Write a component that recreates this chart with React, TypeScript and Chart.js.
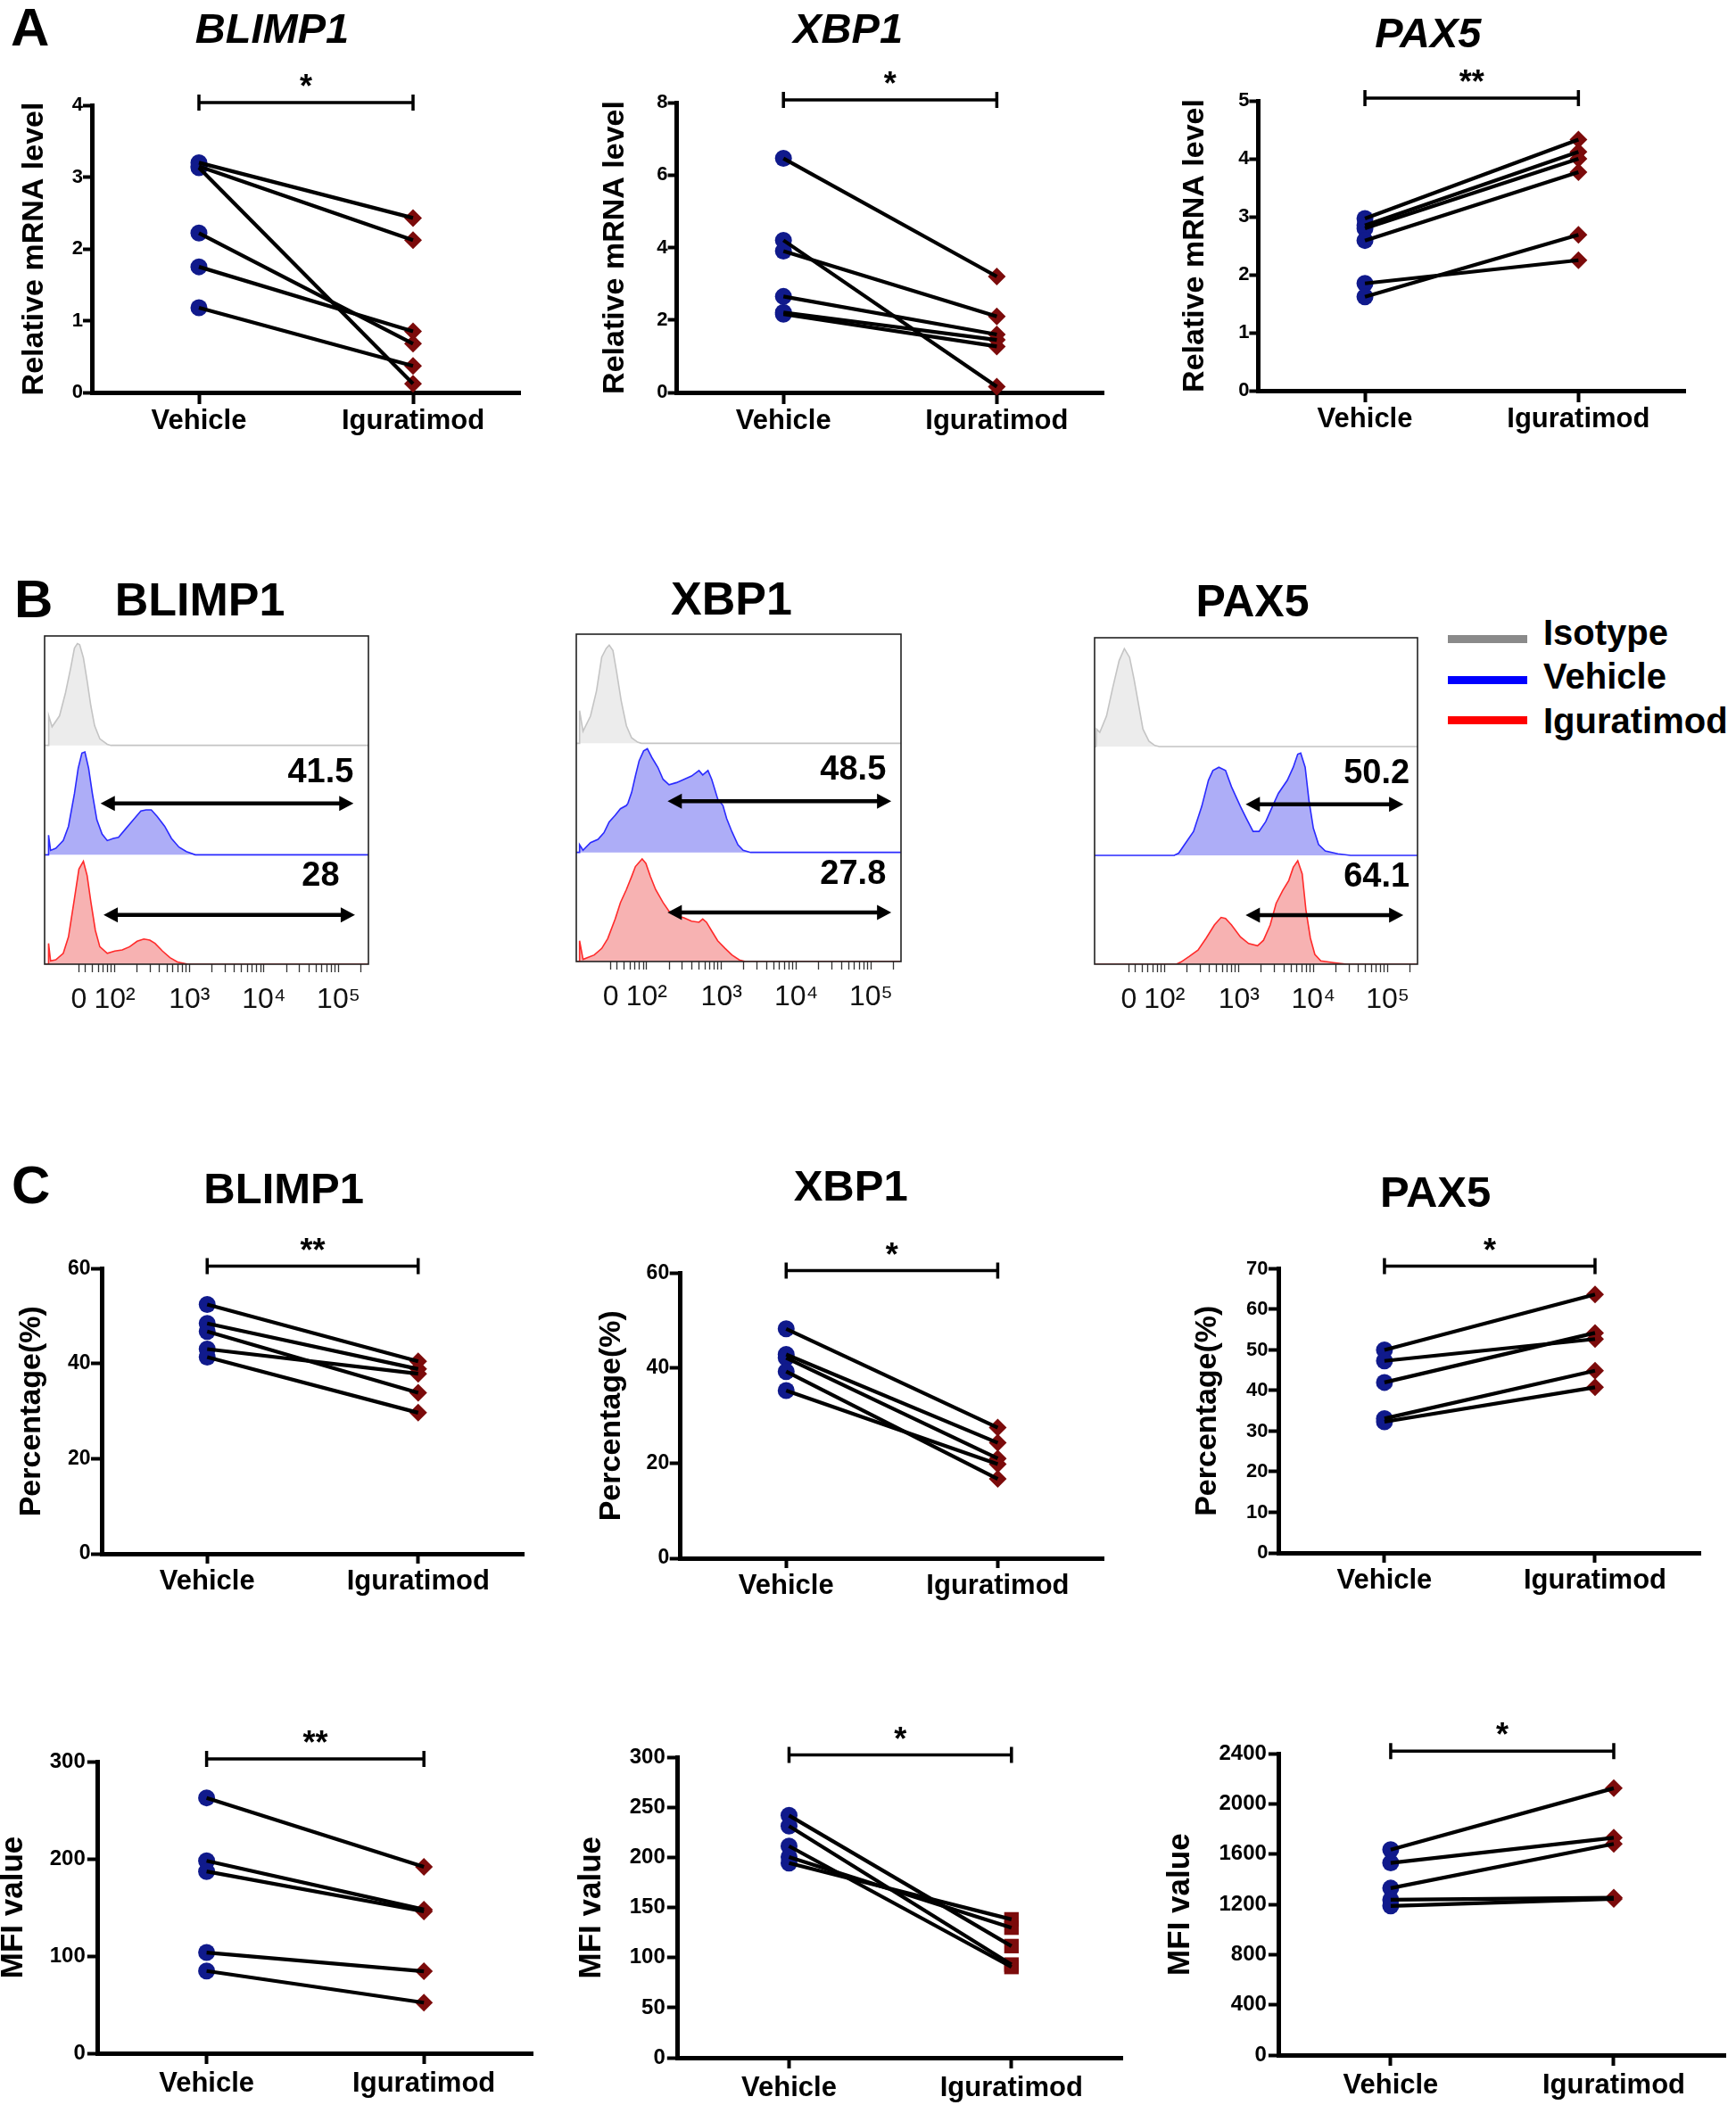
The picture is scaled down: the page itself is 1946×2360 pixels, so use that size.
import React, { useEffect, useMemo, useRef } from 'react';
import { Chart, registerables } from 'chart.js';

Chart.register(...registerables);

const FONT = "'Liberation Sans', Arial, Helvetica, sans-serif";
Chart.defaults.font.family = FONT;
Chart.defaults.color = '#000';

// ---------------- categories ----------------
const groups = ['Vehicle', 'Iguratimod'];
const genes = ['BLIMP1', 'XBP1', 'PAX5'];

// ---------------- Panel A : relative mRNA level ----------------
const aBlimp1Vehicle = [3.2, 3.15, 3.13, 2.22, 1.75, 1.18];
const aBlimp1Iguratimod = [2.43, 2.12, 0.12, 0.68, 0.85, 0.37];
const aXbp1Vehicle = [6.46, 4.2, 3.9, 2.65, 2.21, 2.16];
const aXbp1Iguratimod = [3.2, 0.16, 2.1, 1.6, 1.45, 1.27];
const aPax5Vehicle = [2.97, 2.85, 2.8, 2.59, 1.85, 1.62];
const aPax5Iguratimod = [4.33, 4.12, 4.0, 3.77, 2.25, 2.69];
const aYMax = [4, 8, 5];
const aYStep = [1, 2, 1];
const aSig = ['*', '*', '**'];

// ---------------- Panel C : percentage ----------------
const cPctBlimp1Vehicle = [52.5, 48.5, 46.8, 43.1, 41.4];
const cPctBlimp1Iguratimod = [40.5, 38.9, 33.9, 37.9, 29.7];
const cPctXbp1Vehicle = [48.3, 42.9, 42.2, 39.3, 35.3];
const cPctXbp1Iguratimod = [27.5, 24.3, 21.0, 16.7, 19.8];
const cPctPax5Vehicle = [50.0, 47.3, 42.0, 33.1, 32.3];
const cPctPax5Iguratimod = [63.7, 52.7, 54.2, 44.9, 40.8];
const cPctYMax = [60, 60, 70];
const cPctYStep = [20, 20, 10];
const cPctSig = ['**', '*', '*'];

// ---------------- Panel C : MFI ----------------
const cMfiBlimp1Vehicle = [262.7, 198, 187, 103.6, 84.6];
const cMfiBlimp1Iguratimod = [191.7, 147.8, 145.9, 84.3, 52.1];
const cMfiXbp1Vehicle = [242.2, 231.5, 211.5, 200.7, 194.6];
const cMfiXbp1Iguratimod = [111.6, 93.1, 90.7, 130, 138.3];
const cMfiPax5Vehicle = [1636, 1531, 1330, 1237, 1188];
const cMfiPax5Iguratimod = [2126, 1732, 1683, 1254, 1244];
const cMfiYMax = [300, 300, 2400];
const cMfiYStep = [100, 50, 400];
const cMfiSig = ['**', '*', '*'];

// ---------------- Panel B : flow histograms ----------------
// [position on biexponential axis (decades), normalised count]
const bBlimp1Isotype = [[1.06, 0], [1.11, 0], [1.115, 0.27], [1.16, 0.17], [1.26, 0.27], [1.34, 0.48], [1.41, 0.71], [1.46, 0.89], [1.5, 0.93], [1.53, 0.92], [1.58, 0.8], [1.63, 0.59], [1.68, 0.36], [1.73, 0.18], [1.8, 0.06], [1.9, 0.01], [1.95, 0], [5.4, 0]];
const bBlimp1Vehicle = [[1.06, 0], [1.11, 0], [1.113, 0.18], [1.14, 0.04], [1.21, 0.06], [1.31, 0.13], [1.38, 0.26], [1.46, 0.56], [1.51, 0.79], [1.56, 0.93], [1.6, 0.94], [1.65, 0.79], [1.7, 0.56], [1.76, 0.32], [1.83, 0.19], [1.9, 0.13], [1.98, 0.15], [2.05, 0.16], [2.15, 0.24], [2.25, 0.32], [2.35, 0.4], [2.42, 0.41], [2.49, 0.41], [2.57, 0.35], [2.67, 0.26], [2.76, 0.15], [2.86, 0.07], [2.96, 0.03], [3.08, 0], [5.4, 0]];
const bBlimp1Iguratimod = [[1.06, 0], [1.11, 0], [1.113, 0.19], [1.14, 0.03], [1.21, 0.04], [1.31, 0.1], [1.38, 0.25], [1.46, 0.6], [1.52, 0.87], [1.58, 0.94], [1.63, 0.81], [1.68, 0.57], [1.74, 0.31], [1.8, 0.16], [1.9, 0.1], [2.0, 0.12], [2.1, 0.13], [2.2, 0.16], [2.3, 0.21], [2.39, 0.23], [2.47, 0.22], [2.54, 0.19], [2.64, 0.12], [2.74, 0.06], [2.84, 0.02], [2.98, 0], [5.4, 0]];
const bXbp1Isotype = [[1.06, 0], [1.1, 0], [1.104, 0.3], [1.15, 0.11], [1.25, 0.25], [1.33, 0.48], [1.4, 0.79], [1.46, 0.87], [1.5, 0.9], [1.55, 0.85], [1.6, 0.65], [1.66, 0.39], [1.73, 0.16], [1.8, 0.05], [1.88, 0.01], [1.93, 0], [5.4, 0]];
const bXbp1Vehicle = [[1.06, 0], [1.1, 0], [1.104, 0.07], [1.15, 0.02], [1.25, 0.09], [1.35, 0.12], [1.43, 0.18], [1.5, 0.28], [1.58, 0.34], [1.65, 0.4], [1.73, 0.43], [1.75, 0.45], [1.8, 0.55], [1.85, 0.7], [1.9, 0.84], [1.96, 0.93], [2.01, 0.95], [2.07, 0.87], [2.15, 0.78], [2.22, 0.67], [2.3, 0.62], [2.4, 0.64], [2.5, 0.67], [2.6, 0.7], [2.7, 0.75], [2.75, 0.71], [2.82, 0.75], [2.87, 0.67], [2.95, 0.49], [3.02, 0.43], [3.07, 0.31], [3.14, 0.19], [3.22, 0.07], [3.29, 0.02], [3.39, 0], [5.4, 0]];
const bXbp1Iguratimod = [[1.06, 0], [1.1, 0], [1.104, 0.19], [1.15, 0.02], [1.3, 0.06], [1.4, 0.12], [1.48, 0.21], [1.58, 0.39], [1.65, 0.54], [1.73, 0.66], [1.8, 0.78], [1.85, 0.87], [1.9, 0.91], [1.94, 0.94], [1.99, 0.9], [2.05, 0.78], [2.12, 0.66], [2.22, 0.54], [2.3, 0.46], [2.4, 0.42], [2.5, 0.4], [2.6, 0.37], [2.7, 0.36], [2.75, 0.39], [2.8, 0.36], [2.87, 0.28], [2.95, 0.19], [3.05, 0.12], [3.14, 0.06], [3.24, 0.015], [3.32, 0], [5.4, 0]];
const bPax5Isotype = [[1.06, 0], [1.08, 0], [1.086, 0.16], [1.13, 0.13], [1.22, 0.28], [1.3, 0.53], [1.39, 0.79], [1.46, 0.9], [1.53, 0.82], [1.59, 0.62], [1.65, 0.39], [1.71, 0.16], [1.79, 0.05], [1.87, 0.01], [1.93, 0], [5.4, 0]];
const bPax5Vehicle = [[1.06, 0], [2.13, 0], [2.19, 0.02], [2.27, 0.1], [2.39, 0.22], [2.5, 0.45], [2.59, 0.69], [2.65, 0.78], [2.73, 0.81], [2.82, 0.78], [2.9, 0.63], [3.02, 0.45], [3.1, 0.34], [3.19, 0.22], [3.27, 0.22], [3.36, 0.31], [3.45, 0.45], [3.53, 0.57], [3.65, 0.69], [3.73, 0.81], [3.79, 0.93], [3.83, 0.94], [3.89, 0.81], [3.94, 0.51], [4.0, 0.25], [4.07, 0.1], [4.16, 0.04], [4.33, 0.015], [4.5, 0], [5.4, 0]];
const bPax5Iguratimod = [[1.06, 0], [2.16, 0], [2.22, 0.02], [2.33, 0.07], [2.45, 0.13], [2.56, 0.24], [2.67, 0.36], [2.76, 0.43], [2.82, 0.42], [2.9, 0.36], [3.02, 0.25], [3.13, 0.19], [3.25, 0.17], [3.33, 0.22], [3.42, 0.36], [3.5, 0.56], [3.59, 0.68], [3.67, 0.77], [3.73, 0.89], [3.79, 0.95], [3.85, 0.83], [3.9, 0.5], [3.96, 0.24], [4.02, 0.09], [4.1, 0.03], [4.27, 0.015], [4.45, 0], [5.4, 0]];

const bVehiclePct = ['41.5', '48.5', '50.2'];
const bIguratimodPct = ['28', '27.8', '64.1'];
const bVehicleGate = [[1.81, 5.2], [2.28, 5.27], [3.09, 5.21]];
const bIguratimodGate = [[1.85, 5.22], [2.28, 5.27], [3.09, 5.21]];
const bPctPosition = [4.76, 4.76, 4.85];
const bTickValues = [1.52, 2, 3, 4, 5];
const bTickLabels = ['0', '10\u00B2', '10\u00B3', '10\u2074', '10\u2075'];
const bMinorDecades = [1, 2, 3, 4, 5];
const bMinorFactors = [2, 3, 4, 5, 6, 7, 8, 9];
const legendLabels = ['Isotype', 'Vehicle', 'Iguratimod'];

// ---------------- styles / geometry (not data) ----------------
const NAVY = '#101a8c';
const MAROON = '#7c0b0b';
const histStroke = ['#c4c4c4', '#2a2aff', '#ff2a2a'];
const histFill = ['#ececec', '#adadf7', '#f7b2b2'];
const legendColors = ['#8a8a8a', '#0000ff', '#ff0000'];

const aGeom = [
  { area: [103, 587, 118, 440], titleCX: 305, titleCY: 35, yTitleCX: 39 },
  { area: [758.6, 1240.7, 115, 440], titleCX: 950.5, titleCY: 35, yTitleCX: 689.4 },
  { area: [1410.4, 1893, 113, 438], titleCX: 1600.8, titleCY: 40, yTitleCX: 1340 },
];
const cPctGeom = [
  { area: [114, 590.7, 1422.5, 1742], titleCX: 318, titleCY: 1335, yTitleCX: 36 },
  { area: [762.7, 1240.7, 1427.5, 1747], titleCX: 953.5, titleCY: 1332, yTitleCX: 686 },
  { area: [1433.9, 1909.8, 1422.5, 1741], titleCX: 1609, titleCY: 1339, yTitleCX: 1353.6 },
];
const cMfiGeom = [
  { area: [109.8, 601, 1975, 2302], yTitleCX: 15.3 },
  { area: [759.8, 1263.5, 1970.5, 2306.6], yTitleCX: 663 },
  { area: [1433.9, 1937.8, 1966.3, 2303.8], yTitleCX: 1323.5 },
];
const bGeom = [
  { area: [50, 413, 713, 1081], titleCX: 224, titleCY: 676, titleSize: 52 },
  { area: [646, 1010, 711, 1078], titleCX: 820, titleCY: 675, titleSize: 52 },
  { area: [1227, 1589, 715, 1081], titleCX: 1404, titleCY: 677, titleSize: 50 },
];

// ---------------- plugins ----------------
const sigBarPlugin = {
  id: 'sigBar',
  afterDraw(chart: any, _args: any, opts: any) {
    const { ctx, chartArea, scales } = chart;
    const x0 = scales.x.getPixelForValue(0);
    const x1 = scales.x.getPixelForValue(1);
    const y = chartArea.top - opts.gap;
    ctx.save();
    ctx.strokeStyle = '#000';
    ctx.lineWidth = 3.5;
    ctx.beginPath();
    ctx.moveTo(x0, y);
    ctx.lineTo(x1, y);
    ctx.moveTo(x0, y - 9);
    ctx.lineTo(x0, y + 9);
    ctx.moveTo(x1, y - 9);
    ctx.lineTo(x1, y + 9);
    ctx.stroke();
    ctx.fillStyle = '#000';
    ctx.font = `bold 36px ${FONT}`;
    ctx.textAlign = 'center';
    ctx.textBaseline = 'alphabetic';
    ctx.fillText(opts.text, (x0 + x1) / 2, y - 6);
    ctx.restore();
  },
};

const histDecorPlugin = {
  id: 'histDecor',
  afterDatasetsDraw(chart: any, _args: any, opts: any) {
    const { ctx, chartArea, scales } = chart;
    const { x, y } = scales;
    ctx.save();
    ctx.strokeStyle = '#222';
    ctx.lineWidth = 1.6;
    ctx.strokeRect(chartArea.left, chartArea.top, chartArea.width, chartArea.height);
    opts.arrows.forEach((a: any) => {
      const xa = x.getPixelForValue(a.from);
      const xb = x.getPixelForValue(a.to);
      const yy = y.getPixelForValue(a.y);
      const head = 16;
      const hw = 8.5;
      ctx.strokeStyle = '#000';
      ctx.fillStyle = '#000';
      ctx.lineWidth = 4.5;
      ctx.beginPath();
      ctx.moveTo(xa + head - 2, yy);
      ctx.lineTo(xb - head + 2, yy);
      ctx.stroke();
      ctx.beginPath();
      ctx.moveTo(xa, yy);
      ctx.lineTo(xa + head, yy - hw);
      ctx.lineTo(xa + head, yy + hw);
      ctx.closePath();
      ctx.fill();
      ctx.beginPath();
      ctx.moveTo(xb, yy);
      ctx.lineTo(xb - head, yy - hw);
      ctx.lineTo(xb - head, yy + hw);
      ctx.closePath();
      ctx.fill();
      ctx.font = `bold 38px ${FONT}`;
      ctx.textAlign = 'center';
      ctx.textBaseline = 'middle';
      ctx.fillText(a.label, x.getPixelForValue(a.labelX), y.getPixelForValue(a.labelY));
    });
    ctx.restore();
  },
};

// ---------------- chart builders ----------------
type Built = { rect: { left: number; top: number; width: number; height: number }; config: any };

function buildPair(spec: any): Built {
  const [L, R, T, B] = spec.area;
  const lhY = spec.yTitleSize * 1.2;
  const titled = !!spec.title;
  const S = titled ? 2 * spec.titleCX - R : Math.max(2, spec.yTitleCX - lhY / 2);
  const CL = Math.max(0, Math.floor(Math.min(S, spec.yTitleCX - lhY / 2) - 4));
  const padL = S - CL;
  const W = L - S;
  const pTitle = spec.yTitleCX - S - lhY / 2;
  const padR = 6;
  const CW = Math.ceil(R + padR - CL);
  let CT: number;
  let padTop = 0;
  let tTop = 0;
  let tBottom = 0;
  if (titled) {
    const lhT = spec.titleSize * 1.2;
    CT = Math.floor(spec.titleCY - lhT / 2 - 4);
    tTop = spec.titleCY - lhT / 2 - CT;
    tBottom = T - (spec.titleCY + lhT / 2);
  } else {
    CT = Math.floor(T - 75);
    padTop = T - CT;
  }
  const H = 62;
  const CH = Math.ceil(B + H - CT);

  const datasets: any[] = [
    {
      label: groups[0],
      data: spec.veh.map((v: number) => ({ x: groups[0], y: v })),
      showLine: false,
      pointStyle: 'circle',
      pointRadius: spec.circleR,
      pointBackgroundColor: NAVY,
      pointBorderColor: NAVY,
      pointBorderWidth: 0,
      order: 2,
      clip: false,
    },
    {
      label: groups[1],
      data: spec.igu.map((v: number) => ({ x: groups[1], y: v })),
      showLine: false,
      pointStyle: spec.iguStyle,
      pointRadius: spec.iguR,
      pointBackgroundColor: MAROON,
      pointBorderColor: MAROON,
      pointBorderWidth: 0,
      order: 2,
      clip: false,
    },
  ];
  spec.veh.forEach((v: number, i: number) => {
    datasets.push({
      label: `pair ${i + 1}`,
      data: [v, spec.igu[i]],
      borderColor: '#000',
      borderWidth: 4.2,
      pointRadius: 0,
      fill: false,
      order: 1,
      clip: false,
    });
  });

  const config = {
    type: 'line',
    data: { labels: groups, datasets },
    options: {
      responsive: false,
      animation: false,
      events: [],
      layout: { padding: { left: padL, right: padR, top: padTop, bottom: 0 } },
      plugins: {
        legend: { display: false },
        tooltip: { enabled: false },
        title: titled
          ? {
              display: true,
              text: spec.title,
              color: '#000',
              font: { family: FONT, size: spec.titleSize, weight: 'bold', style: spec.italic ? 'italic' : 'normal' },
              padding: { top: tTop, bottom: tBottom },
            }
          : { display: false },
        sigBar: { text: spec.sig, gap: 3 },
      },
      scales: {
        x: {
          type: 'category',
          labels: groups,
          offset: true,
          afterFit: (s: any) => {
            s.height = H;
          },
          grid: { display: true, drawOnChartArea: false, drawTicks: true, tickLength: spec.xTickLen, tickWidth: 4, tickColor: '#000', color: '#000', offset: false },
          border: { display: true, color: '#000', width: 5 },
          ticks: { font: { family: FONT, size: 31, weight: 'bold' }, color: '#000', padding: spec.xPad, maxRotation: 0 },
        },
        y: {
          type: 'linear',
          min: 0,
          max: spec.yMax,
          afterFit: (s: any) => {
            s.width = W;
          },
          grid: { display: true, drawOnChartArea: false, drawTicks: true, tickLength: spec.yTickLen, tickWidth: 4, tickColor: '#000', color: '#000' },
          border: { display: true, color: '#000', width: 5 },
          ticks: {
            stepSize: spec.yStep,
            font: { family: FONT, size: spec.tickSize, weight: 'bold' },
            color: '#000',
            padding: spec.tickPad,
            callback: (v: any) => String(v),
          },
          title: {
            display: true,
            text: spec.yTitle,
            color: '#000',
            font: { family: FONT, size: spec.yTitleSize, weight: 'bold' },
            padding: { top: pTitle, bottom: 0 },
          },
        },
      },
    },
    plugins: [sigBarPlugin],
  };
  return { rect: { left: CL, top: CT, width: CW, height: CH }, config };
}

function buildHist(i: number): Built {
  const g = bGeom[i];
  const [L, R, T, B] = g.area;
  const tSize = g.titleSize;
  const lhT = tSize * 1.2;
  const S = Math.min(2 * g.titleCX - R, L);
  const w = L - S;
  const CL = Math.floor(S - 6);
  const padL = S - CL;
  const padR = 6;
  const CW = Math.ceil(R + padR - CL);
  const CT = Math.floor(g.titleCY - lhT / 2 - 4);
  const tTop = g.titleCY - lhT / 2 - CT;
  const tBottom = T - (g.titleCY + lhT / 2);
  const H = 68;
  const CH = Math.ceil(B + H - CT);

  const series = [
    [bBlimp1Isotype, bBlimp1Vehicle, bBlimp1Iguratimod],
    [bXbp1Isotype, bXbp1Vehicle, bXbp1Iguratimod],
    [bPax5Isotype, bPax5Vehicle, bPax5Iguratimod],
  ][i];
  const rowBase = [2, 1, 0];
  const datasets = series.map((s, k) => ({
    label: legendLabels[k],
    data: s.map(([x, h]) => ({ x, y: rowBase[k] + h })),
    borderColor: histStroke[k],
    backgroundColor: histFill[k],
    borderWidth: 1.6,
    pointRadius: 0,
    tension: 0,
    fill: { value: rowBase[k] },
  }));

  const minor: number[] = [];
  bMinorDecades.forEach((d) =>
    bMinorFactors.forEach((f) => {
      const v = d + Math.log10(f);
      if (v > 1.08 && v < 5.38 && (d > 1 || f >= 4)) minor.push(v);
    })
  );
  const allTicks = [...bTickValues, ...minor].sort((a, b) => a - b);

  const arrows = [
    { from: bVehicleGate[i][0], to: bVehicleGate[i][1], y: 1.47, label: bVehiclePct[i], labelX: bPctPosition[i], labelY: 1.75 },
    { from: bIguratimodGate[i][0], to: bIguratimodGate[i][1], y: 0.45, label: bIguratimodPct[i], labelX: bPctPosition[i], labelY: 0.8 },
  ];

  const config = {
    type: 'line',
    data: { datasets },
    options: {
      responsive: false,
      animation: false,
      events: [],
      layout: { padding: { left: padL, right: padR, top: 0, bottom: 0 } },
      plugins: {
        legend: { display: false },
        tooltip: { enabled: false },
        title: {
          display: true,
          text: genes[i],
          color: '#000',
          font: { family: FONT, size: tSize, weight: 'bold' },
          padding: { top: tTop, bottom: tBottom },
        },
        histDecor: { arrows },
      },
      scales: {
        x: {
          type: 'linear',
          min: 1.06,
          max: 5.4,
          afterBuildTicks: (s: any) => {
            s.ticks = allTicks.map((v) => ({ value: v }));
          },
          afterFit: (s: any) => {
            s.height = H;
          },
          grid: { display: true, drawOnChartArea: false, drawTicks: true, tickLength: 9, tickWidth: 1.3, tickColor: '#333', color: '#333' },
          border: { display: false },
          ticks: {
            autoSkip: false,
            maxRotation: 0,
            padding: 12,
            color: '#111',
            font: { family: FONT, size: 32, weight: 'normal' },
            callback: (v: any) => {
              const idx = bTickValues.indexOf(Number(v));
              return idx >= 0 ? bTickLabels[idx] : '';
            },
          },
        },
        y: {
          type: 'linear',
          min: 0,
          max: 3,
          afterFit: (s: any) => {
            s.width = w;
          },
          ticks: { display: false },
          grid: { display: false },
          border: { display: false },
        },
      },
    },
    plugins: [histDecorPlugin],
  };
  return { rect: { left: CL, top: CT, width: CW, height: CH }, config };
}

// ---------------- specs ----------------
const aVeh = [aBlimp1Vehicle, aXbp1Vehicle, aPax5Vehicle];
const aIgu = [aBlimp1Iguratimod, aXbp1Iguratimod, aPax5Iguratimod];
const cPctVeh = [cPctBlimp1Vehicle, cPctXbp1Vehicle, cPctPax5Vehicle];
const cPctIgu = [cPctBlimp1Iguratimod, cPctXbp1Iguratimod, cPctPax5Iguratimod];
const cMfiVeh = [cMfiBlimp1Vehicle, cMfiXbp1Vehicle, cMfiPax5Vehicle];
const cMfiIgu = [cMfiBlimp1Iguratimod, cMfiXbp1Iguratimod, cMfiPax5Iguratimod];

const pairSpecs: any[] = [
  ...genes.map((g, i) => ({
    veh: aVeh[i], igu: aIgu[i], yMax: aYMax[i], yStep: aYStep[i], sig: aSig[i],
    title: g, italic: true, titleSize: 47,
    yTitle: 'Relative mRNA level', yTitleSize: 34, tickSize: 22, tickPad: 0, yTickLen: 10,
    xTickLen: 13, xPad: 1,
    iguStyle: 'rectRot', circleR: 9.5, iguR: 10, ...aGeom[i],
  })),
  ...genes.map((g, i) => ({
    veh: cPctVeh[i], igu: cPctIgu[i], yMax: cPctYMax[i], yStep: cPctYStep[i], sig: cPctSig[i],
    title: g, italic: false, titleSize: 49,
    yTitle: 'Percentage(%)', yTitleSize: 34, tickSize: i === 2 ? 22 : 23, tickPad: 0.5, yTickLen: 12,
    xTickLen: 11, xPad: 1.5,
    iguStyle: 'rectRot', circleR: 9.5, iguR: 10, ...cPctGeom[i],
  })),
  ...genes.map((_g, i) => ({
    veh: cMfiVeh[i], igu: cMfiIgu[i], yMax: cMfiYMax[i], yStep: cMfiYStep[i], sig: cMfiSig[i],
    title: null, yTitle: 'MFI value', yTitleSize: 35, tickSize: 24, tickPad: 2, yTickLen: 12,
    xTickLen: 12, xPad: 3.5,
    iguStyle: i === 1 ? 'rect' : 'rectRot', circleR: 9.5, iguR: i === 1 ? 11.5 : 10, ...cMfiGeom[i],
  })),
];

// ---------------- components ----------------
function ChartCanvas({ build }: { build: () => Built }) {
  const ref = useRef<HTMLCanvasElement | null>(null);
  const built = useMemo(build, []);
  useEffect(() => {
    const chart = new Chart(ref.current as HTMLCanvasElement, built.config);
    return () => chart.destroy();
  }, [built]);
  const r = built.rect;
  return (
    <canvas
      ref={ref}
      width={r.width}
      height={r.height}
      style={{ position: 'absolute', left: r.left, top: r.top, width: r.width, height: r.height }}
    />
  );
}

const panelLetters = [
  { text: 'A', left: 12, baseline: 52 },
  { text: 'B', left: 16, baseline: 693 },
  { text: 'C', left: 13, baseline: 1350 },
];
const legendGeom = { lineLeft: 1623, lineWidth: 89, lineHeight: 9, textLeft: 1730, lineY: [716, 762, 807], baseline: [723, 772, 822] };

export default function App() {
  const letterSize = 60;
  const legendSize = 40;
  return (
    <div style={{ position: 'absolute', left: 0, top: 0, width: 1946, height: 2360, background: '#fff', overflow: 'hidden' }}>
      {pairSpecs.map((s, i) => (
        <ChartCanvas key={`p${i}`} build={() => buildPair(s)} />
      ))}
      {genes.map((_g, i) => (
        <ChartCanvas key={`h${i}`} build={() => buildHist(i)} />
      ))}
      {panelLetters.map((p) => (
        <div
          key={p.text}
          style={{
            position: 'absolute',
            left: p.left,
            top: p.baseline - 0.8465 * letterSize,
            fontFamily: FONT,
            fontWeight: 'bold',
            fontSize: letterSize,
            lineHeight: 1,
            color: '#000',
          }}
        >
          {p.text}
        </div>
      ))}
      {legendLabels.map((lab, k) => (
        <React.Fragment key={lab}>
          <div
            style={{
              position: 'absolute',
              left: legendGeom.lineLeft,
              top: legendGeom.lineY[k] - legendGeom.lineHeight / 2,
              width: legendGeom.lineWidth,
              height: legendGeom.lineHeight,
              background: legendColors[k],
            }}
          />
          <div
            style={{
              position: 'absolute',
              left: legendGeom.textLeft,
              top: legendGeom.baseline[k] - 0.8465 * legendSize,
              fontFamily: FONT,
              fontWeight: 'bold',
              fontSize: legendSize,
              lineHeight: 1,
              color: '#000',
              whiteSpace: 'nowrap',
            }}
          >
            {lab}
          </div>
        </React.Fragment>
      ))}
    </div>
  );
}
